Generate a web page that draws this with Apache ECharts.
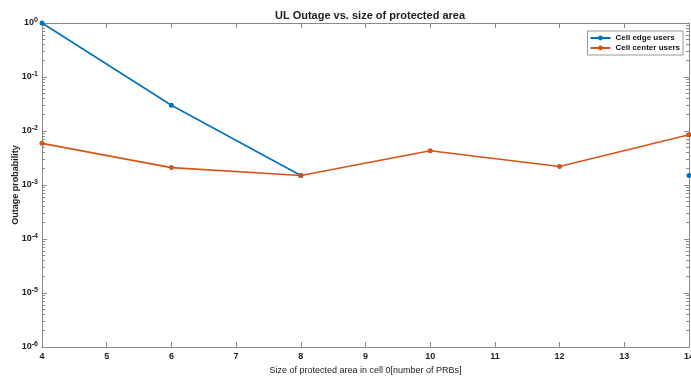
<!DOCTYPE html>
<html>
<head>
<meta charset="utf-8">
<script src="https://cdn.jsdelivr.net/npm/echarts@6/dist/echarts.min.js"></script>
<style>html,body{margin:0;padding:0;background:#fff}#c{width:691px;height:385px}</style>
</head>
<body>
<div id="c"></div>
<script>
const xValues = [4, 6, 8, 10, 12, 14];
const edgeUsers = [1.0, 0.030, 0.0015, null, null, 0.0015];
const centerUsers = [0.0059, 0.0021, 0.0015, 0.0043, 0.0022, 0.0085];
const seriesNames = ['Cell edge users', 'Cell center users'];
const xTicks = [4, 5, 6, 7, 8, 9, 10, 11, 12, 13, 14];
const yDecades = [-6, -5, -4, -3, -2, -1, 0];

const minorVals = [];
for (const d of yDecades.slice(0, -1)) for (let k = 2; k <= 9; k++) minorVals.push(k * Math.pow(10, d));

const FONT = 'Liberation Sans, Arial, sans-serif';
const AX = '#8a8a8a';
const chart = echarts.init(document.getElementById('c'));

function logAxis(pos, opts) {
  return Object.assign({
    type: 'log', position: pos, min: 1e-6, max: 1, logBase: 10,
    axisLine: { show: true, lineStyle: { color: AX, width: 1 } },
    axisTick: { show: true, inside: true, length: 5, lineStyle: { color: AX } },
    axisLabel: { show: false },
    splitLine: { show: false }
  }, opts);
}

chart.setOption({
  animation: false,
  title: {
    text: 'UL Outage vs. size of protected area',
    left: 365, top: 5, textAlign: 'center',
    textStyle: { fontFamily: FONT, fontSize: 11, fontWeight: 'bold', color: '#222' }
  },
  legend: {
    right: 8, top: 31, orient: 'vertical',
    data: seriesNames,
    backgroundColor: '#fff', borderColor: '#999', borderWidth: 1,
    padding: [3, 3, 3, 2], itemGap: 2, itemWidth: 20, itemHeight: 6,
    textStyle: { fontFamily: FONT, fontSize: 8, fontWeight: 'bold', color: '#111' }
  },
  grid: { left: 42, right: 2, top: 23, bottom: 38, outerBoundsMode: 'none', containLabel: false },
  xAxis: [{
    type: 'value', min: 4, max: 14, interval: 1, position: 'bottom',
    name: 'Size of protected area in cell 0[number of PRBs]',
    nameLocation: 'middle', nameGap: 19, nameMoveOverlap: false,
    nameTextStyle: { fontFamily: FONT, fontSize: 9, color: '#222' },
    axisLine: { lineStyle: { color: AX } },
    axisTick: { inside: true, length: 5, lineStyle: { color: AX } },
    axisLabel: { fontFamily: FONT, fontSize: 9, fontWeight: 'bold', color: '#222', margin: 5,
      customValues: xTicks },
    splitLine: { show: false }
  }, {
    type: 'value', min: 4, max: 14, interval: 1, position: 'top',
    axisLine: { lineStyle: { color: AX } },
    axisTick: { inside: true, length: 5, lineStyle: { color: AX } },
    axisLabel: { show: false }, splitLine: { show: false }
  }],
  yAxis: [
    logAxis('left', {
      name: 'Outage probability', nameLocation: 'middle', nameGap: 22, nameMoveOverlap: false,
      nameTextStyle: { fontFamily: FONT, fontSize: 9, fontWeight: 'bold', color: '#222' },
      axisLabel: {
        show: true, margin: 4, fontFamily: FONT,
        formatter: v => '{b|10}{s|' + Math.round(Math.log10(v)) + '}',
        rich: {
          b: { fontFamily: FONT, fontSize: 9, fontWeight: 'bold', color: '#222' },
          s: { fontFamily: FONT, fontSize: 7, fontWeight: 'bold', color: '#222', verticalAlign: 'top', padding: [0, 0, 6, 0] }
        }
      }
    }),
    logAxis('left', { axisLine: { show: false }, axisTick: { show: true, inside: true, length: 3, customValues: minorVals, lineStyle: { color: AX } } }),
    logAxis('right', {}),
    logAxis('right', { axisLine: { show: false }, axisTick: { show: true, inside: true, length: 3, customValues: minorVals, lineStyle: { color: AX } } })
  ],
  series: [{
    name: seriesNames[0], type: 'line', xAxisIndex: 0, yAxisIndex: 0,
    data: xValues.map((x, i) => [x, edgeUsers[i]]),
    connectNulls: false,
    color: '#0072BD', lineStyle: { width: 1.6 },
    symbol: 'circle', symbolSize: 5, showAllSymbol: true
  }, {
    name: seriesNames[1], type: 'line', xAxisIndex: 0, yAxisIndex: 0,
    data: xValues.map((x, i) => [x, centerUsers[i]]),
    color: '#D95319', lineStyle: { width: 1.6 },
    symbol: 'circle', symbolSize: 5, showAllSymbol: true
  }]
});
</script>
</body>
</html>
